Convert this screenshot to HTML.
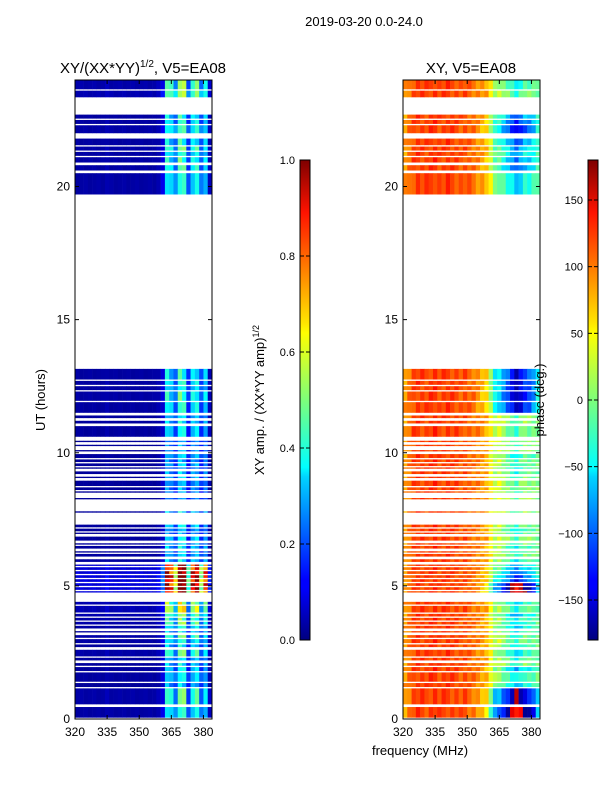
<!DOCTYPE html>
<html><head><meta charset="utf-8">
<style>
html,body{margin:0;padding:0;background:#fff;}
svg text{font-family:"Liberation Sans","DejaVu Sans",sans-serif;fill:#000;}
</style></head>
<body>
<svg id="fig" width="600" height="800" viewBox="0 0 600 800" xmlns="http://www.w3.org/2000/svg">
<defs>
<linearGradient id="jet" x1="0" y1="1" x2="0" y2="0">
<stop offset="0" stop-color="#00007f"/><stop offset="0.11" stop-color="#0000ff"/>
<stop offset="0.125" stop-color="#0000ff"/><stop offset="0.34" stop-color="#00d4ff"/>
<stop offset="0.36" stop-color="#0ff"/><stop offset="0.5" stop-color="#7dff7a"/>
<stop offset="0.64" stop-color="#ff0"/><stop offset="0.66" stop-color="#ffe600"/>
<stop offset="0.89" stop-color="#ff1300"/><stop offset="1" stop-color="#7f0000"/>
</linearGradient>
</defs>
<text x="364" y="26" font-size="13" text-anchor="middle">2019-03-20 0.0-24.0</text>
<g id="leftAx"></g>
<g id="rightAx"></g>
<text x="143" y="73" font-size="15" text-anchor="middle">XY/(XX*YY)<tspan font-size="10" dy="-6">1/2</tspan><tspan dy="6">, V5=EA08</tspan></text>
<text x="471" y="73" font-size="15" text-anchor="middle">XY, V5=EA08</text>
<text x="45" y="400" font-size="13" text-anchor="middle" transform="rotate(-90 45 400)">UT (hours)</text>
<text x="420" y="755" font-size="13" text-anchor="middle">frequency (MHz)</text>
<rect x="300" y="160" width="10" height="480" fill="url(#jet)" stroke="#000" stroke-width="1"/>
<rect x="588" y="160" width="10" height="480" fill="url(#jet)" stroke="#000" stroke-width="1"/>
<text x="264" y="400" font-size="13" text-anchor="middle" transform="rotate(-90 264 400)">XY amp. / (XX*YY amp)<tspan font-size="9" dy="-5">1/2</tspan></text>
<text x="544" y="400" font-size="13" text-anchor="middle" transform="rotate(-90 544 400)">phase (deg.)</text>
<g id="cbTicks"></g>
</svg>
<script>
// ---- data ----
const scanStart = [0.05,0.55,1.2,1.4,1.8,2.0,2.2,2.35,2.7,2.85,3.05,3.25,3.4,3.55,3.7,3.85,4.0,4.3,4.75,4.85,5.0,5.15,5.3,5.45,5.6,5.75,5.9,6.1,6.25,6.4,6.55,6.7,6.95,7.05,7.2,7.75,8.25,8.5,8.6,8.75,9.05,9.2,9.4,9.5,9.65,9.8,10.05,10.25,10.4,10.6,11.1,11.3,11.5,11.95,12.35,12.55,12.75,19.7,20.6,20.9,21.15,21.35,21.55,22.0,22.35,22.55,23.35,23.65];
const scanEnd   = [0.45,1.15,1.35,1.75,1.95,2.1,2.3,2.6,2.8,3.0,3.15,3.3,3.5,3.65,3.8,3.95,4.25,4.4,4.8,4.95,5.1,5.25,5.4,5.55,5.7,5.8,6.0,6.2,6.3,6.5,6.6,6.85,7.0,7.15,7.3,7.8,8.3,8.55,8.7,8.95,9.1,9.3,9.45,9.6,9.75,9.95,10.1,10.3,10.45,11.0,11.2,11.4,11.9,12.3,12.5,12.7,13.15,20.5,20.8,21.1,21.3,21.5,21.8,22.3,22.5,22.7,23.6,24.0];
const scanGain  = [1.2,1.3,0.9,1.1,1,1,1,1.3,1,1.2,1.3,1,1.2,1.4,1.3,1.5,1.7,1.6,2.9,2.9,3.0,3.0,3.0,2.9,2.8,2.6,1,1,0.9,1,1,1,0.8,0.9,1,1,0.8,0.8,0.8,0.9,0.9,0.9,0.8,0.9,0.8,1,0.8,0.8,0.8,1,1,1,1.1,1.2,1.1,1.1,1.1,1.2,1.2,1.2,1.2,1.3,1.1,1.3,1.1,1.1,1.6,1.4];
const scanPhase = [-250,-200,-80,-60,-90,-40,-50,-70,-60,-40,-50,-60,-80,-70,-60,-90,-50,-70,-240,-240,-230,-150,-140,-120,-100,-90,-60,-40,-50,-60,-40,-30,-50,-60,-40,-30,-20,-40,-30,-30,-40,-50,-60,-50,-40,-60,-30,-40,-30,-40,-30,-30,-170,-180,-170,-175,-165,-80,-120,-110,-90,-100,-120,-160,-140,-120,-40,-60];
const freqs     = [321,323,325,327,329,331,333,335,337,339,341,343,345,347,349,351,353,355,357,359,361,363,365,367,369,371,373,375,377,379,381,383];
const ampProfile= [0.03,0.03,0.03,0.03,0.03,0.03,0.03,0.04,0.03,0.03,0.03,0.03,0.03,0.03,0.03,0.03,0.03,0.03,0.03,0.04,0.08,0.33,0.28,0.2,0.38,0.36,0.15,0.3,0.33,0.18,0.28,0.05];
const phaseBase = [80,95,110,115,112,110,115,118,110,112,115,112,110,105,108,100,95,92,88,82,60,40,50,40,30,20,10,30,40,30,20,10];
const phaseSlope= [0,0,0,0,0,0,0,0,0,0,0,0,0,0,0,0,0,0.05,0.1,0.15,0.3,0.5,0.6,0.7,0.8,0.9,1.0,1.0,0.9,0.8,0.6,0.3];
const ampTicks  = [0.0,0.2,0.4,0.6,0.8,1.0];
const phaseTicks= [-150,-100,-50,0,50,100,150];
const utTicks   = [0,5,10,15,20];
const freqTicks = [320,335,350,365,380];
// ---- helpers ----
const NS='http://www.w3.org/2000/svg';
function jet(v){v=Math.max(0,Math.min(1,v));
 const c=x=>Math.round(255*Math.max(0,Math.min(1,x)));
 return `rgb(${c(1.5-Math.abs(4*v-3))},${c(1.5-Math.abs(4*v-2))},${c(1.5-Math.abs(4*v-1))})`;}
function el(tag,attrs,parent){const e=document.createElementNS(NS,tag);for(const k in attrs)e.setAttribute(k,attrs[k]);parent.appendChild(e);return e;}
const yScale=h=>719-(h/24)*639;
const panels=[{g:document.getElementById('leftAx'),x0:75,kind:'amp'},{g:document.getElementById('rightAx'),x0:403,kind:'phase'}];
const W=137;
const xScale=(x0,f)=>x0+(f-320)/64*W;
panels.forEach(p=>{
 for(let i=0;i<scanStart.length;i++){
  const y1=yScale(scanEnd[i]),y2=yScale(scanStart[i]);
  for(let j=0;j<freqs.length;j++){
   let col;
   if(p.kind==='amp'){col=jet(ampProfile[j]*scanGain[i]*(1+0.12*((i+j)%3-1)));}
   else{let ph=phaseBase[j]+scanPhase[i]*phaseSlope[j]+6*((i*7+j*3)%5-2);
    ph=((ph+180)%360+360)%360-180;col=jet((ph+180)/360);}
   const r=el('rect',{x:xScale(p.x0,freqs[j]-1),y:y1,width:W/32+0.3,height:Math.max(0.8,y2-y1),fill:col},p.g);
   
   
  }
 }
 const fr=el('rect',{x:p.x0,y:80,width:W,height:639,fill:'none',stroke:'#000','stroke-width':1},p.g);
 
 
 utTicks.forEach(t=>{const y=yScale(t);
  el('line',{x1:p.x0,x2:p.x0+4,y1:y,y2:y,stroke:'#000'},p.g);
  el('line',{x1:p.x0+W-4,x2:p.x0+W,y1:y,y2:y,stroke:'#000'},p.g);
  const tx=el('text',{x:p.x0-5,y:y+4,'font-size':12,'text-anchor':'end'},p.g);tx.textContent=t;
  
  });
 freqTicks.forEach(t=>{const x=xScale(p.x0,t);
  el('line',{x1:x,x2:x,y1:719,y2:715,stroke:'#000'},p.g);
  el('line',{x1:x,x2:x,y1:80,y2:84,stroke:'#000'},p.g);
  const tx=el('text',{x:x,y:736,'font-size':12,'text-anchor':'middle'},p.g);tx.textContent=t;
  
  });
});
const cb=document.getElementById('cbTicks');
ampTicks.forEach(t=>{const y=640-t*480;
 el('line',{x1:300,x2:304,y1:y,y2:y,stroke:'#000'},cb);el('line',{x1:306,x2:310,y1:y,y2:y,stroke:'#000'},cb);
 const tx=el('text',{x:295,y:y+4,'font-size':11,'text-anchor':'end'},cb);tx.textContent=t.toFixed(1);
 
 });
phaseTicks.forEach(t=>{const y=400-t*240/180;
 el('line',{x1:588,x2:592,y1:y,y2:y,stroke:'#000'},cb);el('line',{x1:594,x2:598,y1:y,y2:y,stroke:'#000'},cb);
 const tx=el('text',{x:583,y:y+4,'font-size':11,'text-anchor':'end'},cb);tx.textContent=t<0?'\u2212'+(-t):t;
 
 });
</script>
</body></html>
